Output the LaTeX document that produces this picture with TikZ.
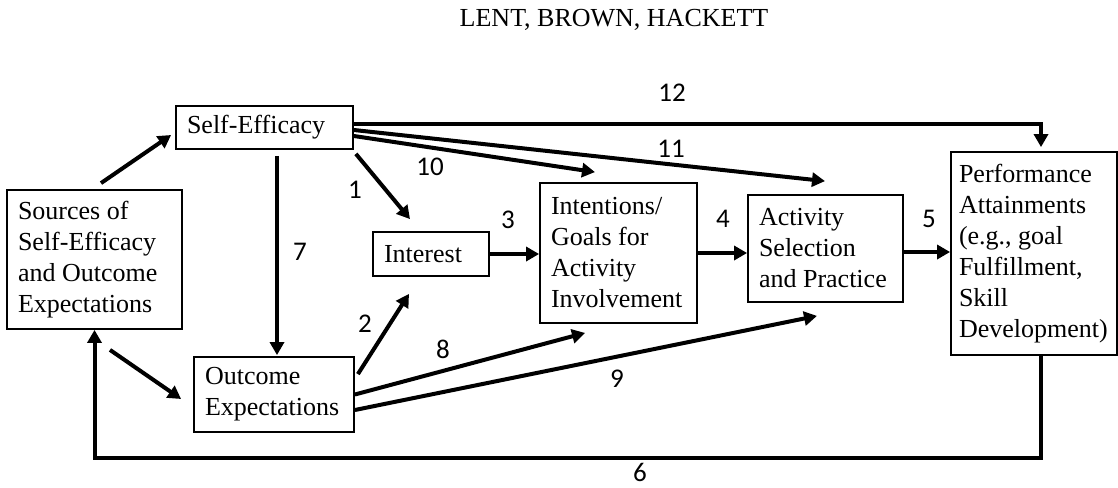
\documentclass[tikz,border=0pt]{standalone}
\usepackage{fontspec}
\setmainfont{Liberation Serif}
\newfontfamily\numfont{Carlito}
\usetikzlibrary{arrows.meta,calc}
\tikzset{
  box/.style={draw, line width=1.8pt, align=flush left, inner xsep=11pt, inner ysep=2pt,
    font=\fontsize{26}{31}\selectfont, anchor=center},
  tip/.tip={Triangle[length=13pt,width=14pt]},
  arr/.style={line width=4pt, -tip},
  num/.style={font=\numfont\fontsize{27}{30}\selectfont, inner sep=0pt}
}
\begin{document}
\begin{tikzpicture}[x=1pt,y=-1pt]
\useasboundingbox (0,0) rectangle (1118,487);
\node[font=\fontsize{26}{31}\selectfont] (title) at (614,20) {LENT, BROWN, HACKETT};
% boxes
\node[box, text width=153pt, minimum height=139pt] (src) at (94.5,259.5) {Sources of\\Self-Efficacy\\and Outcome\\Expectations};
\node[box, text width=155pt, minimum height=43pt] (se) at (264.5,127.5) {Self-Efficacy};
\node[box, text width=94pt, minimum height=44pt] (int) at (431,254) {Interest};
\node[box, text width=135pt, minimum height=140pt] (intn) at (618.5,253) {Intentions/\\Goals for\\Activity\\Involvement};
\node[box, text width=133pt, minimum height=107pt] (act) at (825.5,248.5) {Activity\\Selection\\and Practice};
\node[box, text width=150pt, inner xsep=8pt, minimum height=203pt] (perf) at (1034,253.5) {Performance\\Attainments\\(e.g., goal\\Fulfillment,\\Skill\\Development)};
\node[box, text width=138pt, minimum height=75pt] (oe) at (274,394.5) {Outcome\\Expectations};
% connectors
\draw[arr] ($(src.north)+(6.5,-6)$) -- ($(se.west)+(-4,7.5)$);
\draw[arr] ($(src.south)+(15.5,20)$) -- ($(oe.west)+(-12,4.5)$);
\draw[arr] ($(se.south)+(12.5,6)$) -- ($(oe.north)+(3,-1)$);
\draw[arr] ($(se.south east)+(2,4)$) -- ($(int.north)+(-21,-12)$);
\draw[arr] ($(se.east)+(0,8.5)$) -- ($(intn.north)+(-23.5,-10)$);
\draw[arr] ($(se.east)+(0,2.5)$) -- ($(act.north)+(-0.5,-13)$);
\draw[arr] ($(se.east)+(0,-3.5)$) -| ($(perf.north)+(7,-4)$);
\draw[arr] (int.east) -- (intn.west |- int.east);
\draw[arr] (intn.east) -- (act.west |- intn.east);
\draw[arr] ($(act.east)+(0,3.5)$) -- ($(perf.west)+(0,-1.5)$);
\draw[arr] ($(oe.north east)+(3,18)$) -- ($(int.south)+(-22,17)$);
\draw[arr] (oe.east) -- ($(intn.south)+(-33.5,9)$);
\draw[arr] ($(oe.east)+(0,15.5)$) -- ($(act.south)+(-8.5,13)$);
\draw[arr] ($(perf.south)+(7,0)$) -- ++(0,102) -| (src.south);
% labels
\node[num] (n1) at (355,190) {1};
\node[num] (n2) at (365,324) {2};
\node[num] (n3) at (508,220) {3};
\node[num] (n4) at (723,219) {4};
\node[num] (n5) at (929,219) {5};
\node[num] (n6) at (640,472) {6};
\node[num] (n7) at (300,252) {7};
\node[num] (n8) at (443,349) {8};
\node[num] (n9) at (617,379) {9};
\node[num] (n10) at (430,167) {10};
\node[num] (n11) at (671,149) {11};
\node[num] (n12) at (672,93) {12};
\end{tikzpicture}
\end{document}
